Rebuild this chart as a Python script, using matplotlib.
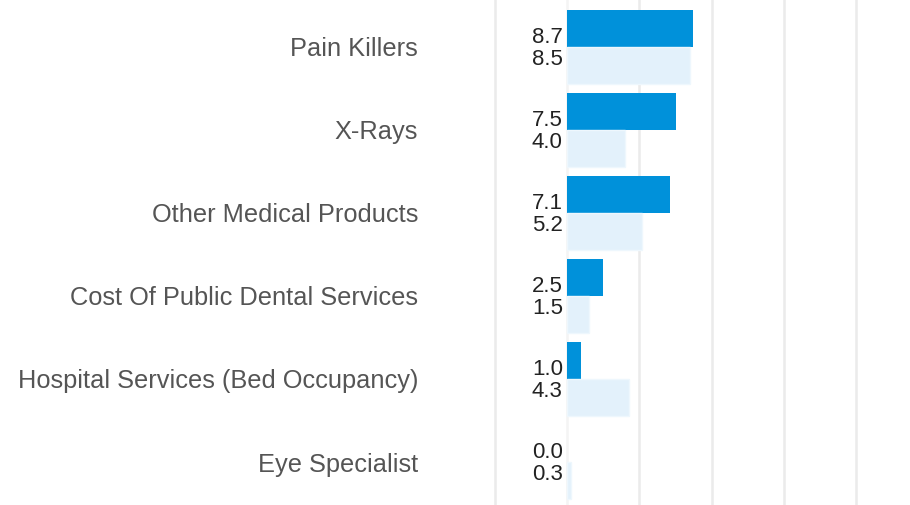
import matplotlib
matplotlib.use("Agg")
import matplotlib.pyplot as plt
import numpy as np

categories = ["Pain Killers", "X-Rays", "Other Medical Products",
              "Cost Of Public Dental Services", "Hospital Services (Bed Occupancy)",
              "Eye Specialist"]
series_a = [8.7, 7.5, 7.1, 2.5, 1.0, 0.0]
series_b = [8.5, 4.0, 5.2, 1.5, 4.3, 0.3]
xticks = [-5, 0, 5, 10, 15, 20]

plt.rcParams['font.family'] = ['Liberation Sans', 'DejaVu Sans']

W, H = 910, 505
fig = plt.figure(figsize=(W / 100, H / 100), dpi=100)
x0, x1 = -5.2, 23.7
left_px = 491.7
ax = fig.add_axes([left_px / W, 0, 1 - left_px / W, 1])
ax.set_xlim(x0, x1)
ax.set_ylim(5.518, -0.566)

y = np.arange(len(categories))
h = 0.446
dark = "#0091DA"
light = "#E3F1FB"
ax.barh(y - h / 2, series_a, height=h, color=dark, zorder=2)
ax.barh(y + h / 2, series_b, height=h, color=light, edgecolor="#EEF7FD", linewidth=1, zorder=2)

for yi, a, b in zip(y, series_a, series_b):
    ax.annotate(f"{a:.1f}", xy=(0, yi - 0.114), xytext=(-3, 0), textcoords="offset points",
                ha="right", va="center", fontsize=16, color="#222222")
    ax.annotate(f"{b:.1f}", xy=(0, yi + 0.151), xytext=(-3, 0), textcoords="offset points",
                ha="right", va="center", fontsize=16, color="#222222")

for xt in xticks:
    ax.axvline(xt, color="#F4F4F4" if xt == 0 else "#EBEBEB", lw=1.8, zorder=1)

ax.set_yticks(y)
ax.set_yticklabels(categories, fontsize=18.3, color="#555555")
ax.tick_params(axis="y", length=0, pad=53)
ax.set_xticks([])
for s in ax.spines.values():
    s.set_visible(False)

fig.savefig("out.png", dpi=100)
